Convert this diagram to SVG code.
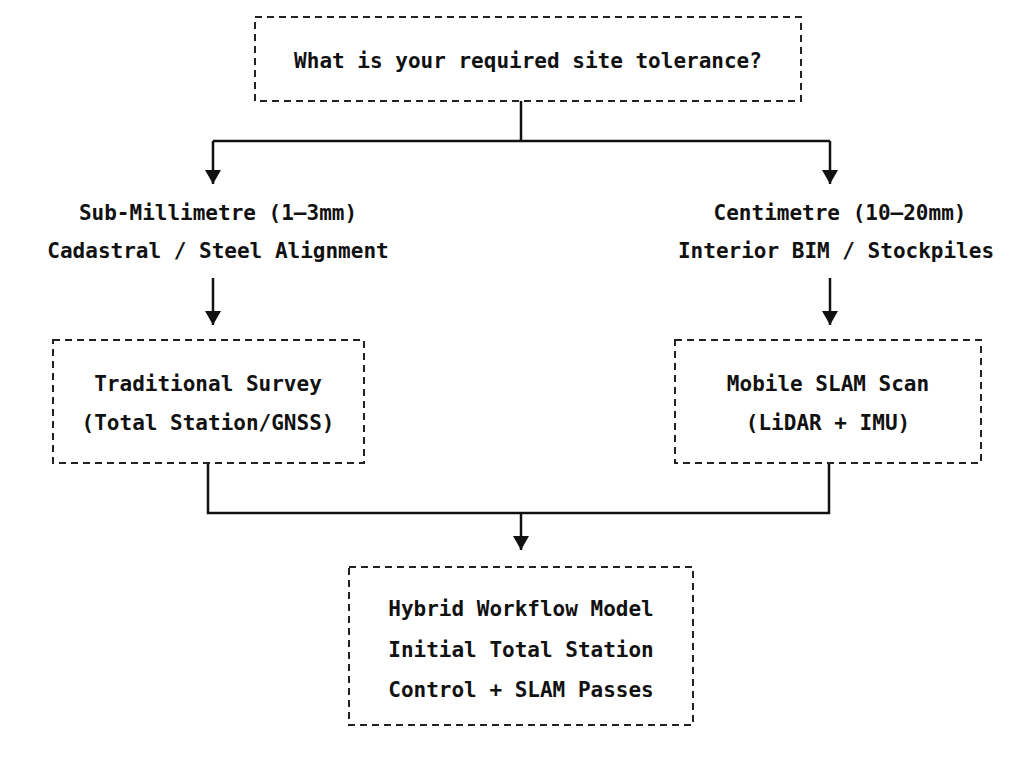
<svg xmlns="http://www.w3.org/2000/svg" width="1024" height="762" viewBox="0 0 1024 762">
<defs>
<marker id="ah" markerWidth="10" markerHeight="10" refX="5" refY="9" orient="auto" markerUnits="userSpaceOnUse" viewBox="0 0 10 10"><path d="M0,0 L10,0 L5,10 z" fill="#111" transform="rotate(-90 5 5)"/></marker>
<marker id="a" viewBox="0 0 14 16" refX="14" refY="8" markerWidth="14" markerHeight="16" orient="auto" markerUnits="userSpaceOnUse"><path d="M0,0 L14,8 L0,16 z" fill="#111"/></marker>
</defs>
<style>
.box{fill:#fff;stroke:#222;stroke-width:2;stroke-dasharray:7 5}
.t{font-family:"DejaVu Sans Mono",monospace;font-weight:bold;font-size:21px;fill:#111;text-anchor:middle}
.c{fill:none;stroke:#111;stroke-width:2.5}
</style>
<rect width="1024" height="762" fill="#fff"/>
<g id="connectors">
<path class="c" d="M521,101 V141 M213,141 H830"/>
<path class="c" d="M213,141 V184" marker-end="url(#a)"/>
<path class="c" d="M830,141 V184" marker-end="url(#a)"/>
<path class="c" d="M213,278 V325" marker-end="url(#a)"/>
<path class="c" d="M830,278 V325" marker-end="url(#a)"/>
<path class="c" d="M208,463 V513 H829 V463"/>
<path class="c" d="M521,513 V550" marker-end="url(#a)"/>
</g>
<g id="q"><rect class="box" x="255" y="17" width="546" height="84"/><text class="t" x="528" y="68">What is your required site tolerance?</text></g>
<g id="subm"><text class="t" x="218" y="220">Sub-Millimetre (1–3mm)</text><text class="t" x="218" y="258">Cadastral / Steel Alignment</text></g>
<g id="cm"><text class="t" x="840" y="220">Centimetre (10–20mm)</text><text class="t" x="836" y="258">Interior BIM / Stockpiles</text></g>
<g id="trad"><rect class="box" x="53" y="340" width="311" height="123"/><text class="t" x="208" y="391">Traditional Survey</text><text class="t" x="208" y="430">(Total Station/GNSS)</text></g>
<g id="slam"><rect class="box" x="675" y="340" width="306" height="123"/><text class="t" x="828" y="391">Mobile SLAM Scan</text><text class="t" x="828" y="430">(LiDAR + IMU)</text></g>
<g id="hybrid"><rect class="box" x="349" y="567" width="344" height="158"/><text class="t" x="521" y="616">Hybrid Workflow Model</text><text class="t" x="521" y="657">Initial Total Station</text><text class="t" x="521" y="697">Control + SLAM Passes</text></g>
</svg>
